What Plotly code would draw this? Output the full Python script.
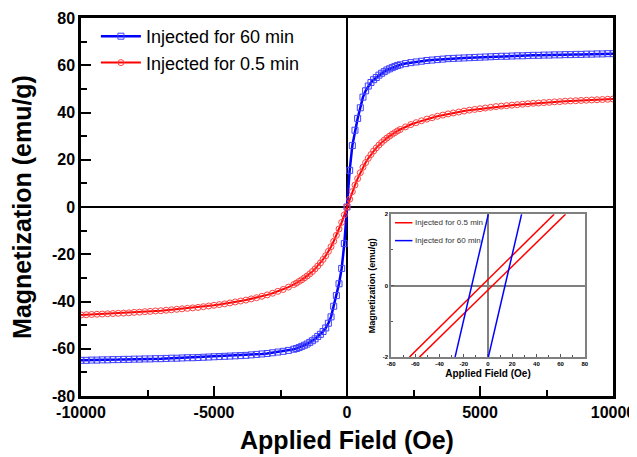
import plotly.graph_objects as go

# ---------------- main loop data ----------------
field_oe = [-10000, -9800, -9600, -9400, -9200, -9000, -8800, -8600, -8400, -8200,
            -8000, -7800, -7600, -7400, -7200, -7000, -6800, -6600, -6400, -6200,
            -6000, -5800, -5600, -5400, -5200, -5000, -4800, -4600, -4400, -4200,
            -4000, -3800, -3600, -3400, -3200, -3000, -2800, -2600, -2400, -2200,
            -2000, -1900, -1800, -1700, -1600, -1500, -1400, -1300, -1200, -1100,
            -1000, -900, -800, -700, -600, -500, -400, -300, -200, -100,
            0, 100, 200, 300, 400, 500, 600, 700, 800, 900,
            1000, 1100, 1200, 1300, 1400, 1500, 1600, 1700, 1800, 1900,
            2000, 2200, 2400, 2600, 2800, 3000, 3200, 3400, 3600, 3800,
            4000, 4200, 4400, 4600, 4800, 5000, 5200, 5400, 5600, 5800,
            6000, 6200, 6400, 6600, 6800, 7000, 7200, 7400, 7600, 7800,
            8000, 8200, 8400, 8600, 8800, 9000, 9200, 9400, 9600, 9800, 10000]

mag_60min = [-64.9, -64.9, -64.8, -64.8, -64.7, -64.7, -64.6, -64.6, -64.5, -64.5,
             -64.4, -64.4, -64.3, -64.3, -64.2, -64.2, -64.1, -64.0, -64.0, -63.9,
             -63.8, -63.8, -63.7, -63.6, -63.5, -63.4, -63.3, -63.2, -63.1, -63.0,
             -62.9, -62.8, -62.6, -62.4, -62.2, -62.0, -61.7, -61.4, -61.1, -60.7,
             -60.2, -59.9, -59.5, -59.0, -58.5, -58.0, -57.3, -56.6, -55.8, -54.8,
             -53.9, -52.7, -51.2, -49.2, -46.5, -42.0, -37.5, -32.5, -26.0, -15.5,
             0.0, 15.5, 26.0, 32.5, 37.5, 42.0, 46.5, 49.2, 51.2, 52.7,
             53.9, 54.8, 55.8, 56.6, 57.3, 58.0, 58.5, 59.0, 59.5, 59.9,
             60.2, 60.7, 61.1, 61.4, 61.7, 62.0, 62.2, 62.4, 62.6, 62.8,
             62.9, 63.0, 63.1, 63.2, 63.3, 63.4, 63.5, 63.6, 63.7, 63.8,
             63.8, 63.9, 64.0, 64.0, 64.1, 64.2, 64.2, 64.3, 64.3, 64.4,
             64.4, 64.5, 64.5, 64.6, 64.6, 64.7, 64.7, 64.8, 64.8, 64.9, 64.9]

mag_05min = [-45.7, -45.6, -45.5, -45.4, -45.3, -45.2, -45.1, -45.0, -44.9, -44.8,
             -44.6, -44.5, -44.3, -44.2, -44.0, -43.9, -43.7, -43.5, -43.3, -43.1,
             -42.9, -42.7, -42.5, -42.2, -41.9, -41.6, -41.3, -41.0, -40.6, -40.2,
             -39.8, -39.4, -38.9, -38.4, -37.8, -37.2, -36.5, -35.7, -34.9, -33.9,
             -32.8, -32.2, -31.5, -30.8, -30.0, -29.2, -28.3, -27.3, -26.2, -25.0,
             -23.7, -22.2, -20.6, -18.8, -16.8, -14.5, -12.0, -9.3, -6.5, -3.3,
             0.0, 3.3, 6.5, 9.3, 12.0, 14.5, 16.8, 18.8, 20.6, 22.2,
             23.7, 25.0, 26.2, 27.3, 28.3, 29.2, 30.0, 30.8, 31.5, 32.2,
             32.8, 33.9, 34.9, 35.7, 36.5, 37.2, 37.8, 38.4, 38.9, 39.4,
             39.8, 40.2, 40.6, 41.0, 41.3, 41.6, 41.9, 42.2, 42.5, 42.7,
             42.9, 43.1, 43.3, 43.5, 43.7, 43.9, 44.0, 44.2, 44.3, 44.5,
             44.6, 44.8, 44.9, 45.0, 45.1, 45.2, 45.3, 45.4, 45.5, 45.6, 45.7]

# ---------------- inset (low-field) data ----------------
inset_field_05min = [-64.9, 54.7, None, -56.6, 64.1]
inset_mag_05min = [-2, 2, None, -2, 2]
inset_field_60min = [-27.2, 0.3, None, 0.3, 27.8]
inset_mag_60min = [-2, 2, None, -2, 2]
inset_legend_labels = ["Injected for 0.5 min", "Injected for 60 min"]

x_ticks = [-10000, -5000, 0, 5000, 10000]
y_ticks = [-80, -60, -40, -20, 0, 20, 40, 60, 80]
inset_x_ticks = [-80, -60, -40, -20, 0, 20, 40, 60, 80]
inset_y_ticks = [-2, 0, 2]

BLUE = "#0000FF"
RED = "#FF0000"
FONT = "Arial, Liberation Sans, sans-serif"

fig = go.Figure()

fig.add_trace(go.Scatter(
    x=field_oe, y=mag_60min, name="Injected for 60 min", mode="lines+markers",
    line=dict(color=BLUE, width=2.5),
    marker=dict(symbol="square-open", size=6, color="#4040FF", line=dict(width=1))))
fig.add_trace(go.Scatter(
    x=field_oe, y=mag_05min, name="Injected for 0.5 min", mode="lines+markers",
    line=dict(color=RED, width=2),
    marker=dict(symbol="circle-open", size=6, color="#FF4040", line=dict(width=1))))

fig.add_trace(go.Scatter(
    x=inset_field_05min, y=inset_mag_05min, name=inset_legend_labels[0],
    mode="lines", line=dict(color=RED, width=1.5), showlegend=False,
    xaxis="x2", yaxis="y2"))
fig.add_trace(go.Scatter(
    x=inset_field_60min, y=inset_mag_60min, name=inset_legend_labels[1],
    mode="lines", line=dict(color=BLUE, width=1.5), showlegend=False,
    xaxis="x2", yaxis="y2"))

# inset legend (small line samples + labels, in inset-domain coordinates)
for i, (label, col) in enumerate(zip(inset_legend_labels, [RED, BLUE])):
    yy = 0.94 - i * 0.125
    fig.add_shape(type="line", xref="x2 domain", yref="y2 domain",
                  x0=0.02, x1=0.11, y0=yy, y1=yy, line=dict(color=col, width=1.5))
    fig.add_annotation(text=label, xref="x2 domain", yref="y2 domain",
                       x=0.115, y=yy, xanchor="left", yanchor="middle", showarrow=False,
                       font=dict(size=8, family=FONT, color="#333333"))

# the page body adds an 8 px offset, so the figure is sized to the remaining window
fig.update_layout(
    width=629, height=449,
    margin=dict(l=73, r=24, t=10, b=61),
    paper_bgcolor="white", plot_bgcolor="white",
    font=dict(family=FONT, color="black"),
    xaxis=dict(
        range=[-10000, 10000], tickvals=x_ticks, ticktext=[str(v) for v in x_ticks],
        ticks="inside", ticklen=10, tickwidth=2, tickcolor="black",
        minor=dict(dtick=2500, ticks="inside", ticklen=6, tickwidth=2, tickcolor="black"),
        showline=True, linecolor="black", linewidth=2.5, mirror=True,
        showgrid=False, zeroline=True, zerolinecolor="black", zerolinewidth=2,
        tickfont=dict(size=16, family=FONT, weight="bold"), automargin=False,
        title=dict(text="<b>Applied Field (Oe)</b>", font=dict(size=25, family=FONT), standoff=12),
    ),
    yaxis=dict(
        range=[-80, 80], tickvals=y_ticks, ticktext=[str(v) for v in y_ticks],
        ticks="inside", ticklen=10, tickwidth=2, tickcolor="black",
        minor=dict(dtick=10, ticks="inside", ticklen=6, tickwidth=2, tickcolor="black"),
        showline=True, linecolor="black", linewidth=2.5, mirror=True,
        showgrid=False, zeroline=True, zerolinecolor="black", zerolinewidth=2,
        tickfont=dict(size=16, family=FONT, weight="bold"), automargin=False,
        title=dict(text="<b>Magnetization (emu/g)</b>", font=dict(size=25, family=FONT), standoff=15),
    ),
    xaxis2=dict(
        domain=[0.583, 0.947], anchor="y2", range=[-80, 80],
        tickvals=inset_x_ticks, ticktext=[str(v) for v in inset_x_ticks],
        ticks="inside", ticklen=3, tickwidth=1, tickcolor="#555555",
        minor=dict(dtick=10, ticks="inside", ticklen=2, tickcolor="#555555"),
        showline=True, linecolor="#808080", linewidth=1.5, mirror=True,
        showgrid=False, zeroline=True, zerolinecolor="#808080", zerolinewidth=1.5,
        tickfont=dict(size=6, family=FONT, weight="bold"), automargin=False,
        title=dict(text="<b>Applied Field (Oe)</b>", font=dict(size=10, family=FONT), standoff=4),
    ),
    yaxis2=dict(
        domain=[0.103, 0.481], anchor="x2", range=[-2, 2],
        tickvals=inset_y_ticks, ticktext=[str(v) for v in inset_y_ticks],
        ticks="inside", ticklen=3, tickwidth=1, tickcolor="#555555",
        minor=dict(dtick=1, ticks="inside", ticklen=2, tickcolor="#555555"),
        showline=True, linecolor="#808080", linewidth=1.5, mirror=True,
        showgrid=False, zeroline=True, zerolinecolor="#808080", zerolinewidth=1.5,
        tickfont=dict(size=6, family=FONT, weight="bold"), automargin=False,
        title=dict(text="<b>Magnetization (emu/g)</b>", font=dict(size=9, family=FONT), standoff=6),
    ),
    legend=dict(
        x=0.028, y=1.0, xanchor="left", yanchor="top",
        bgcolor="rgba(0,0,0,0)", font=dict(size=18, family=FONT),
        itemwidth=40, tracegroupgap=0,
    ),
)

fig.write_html("out.html")
